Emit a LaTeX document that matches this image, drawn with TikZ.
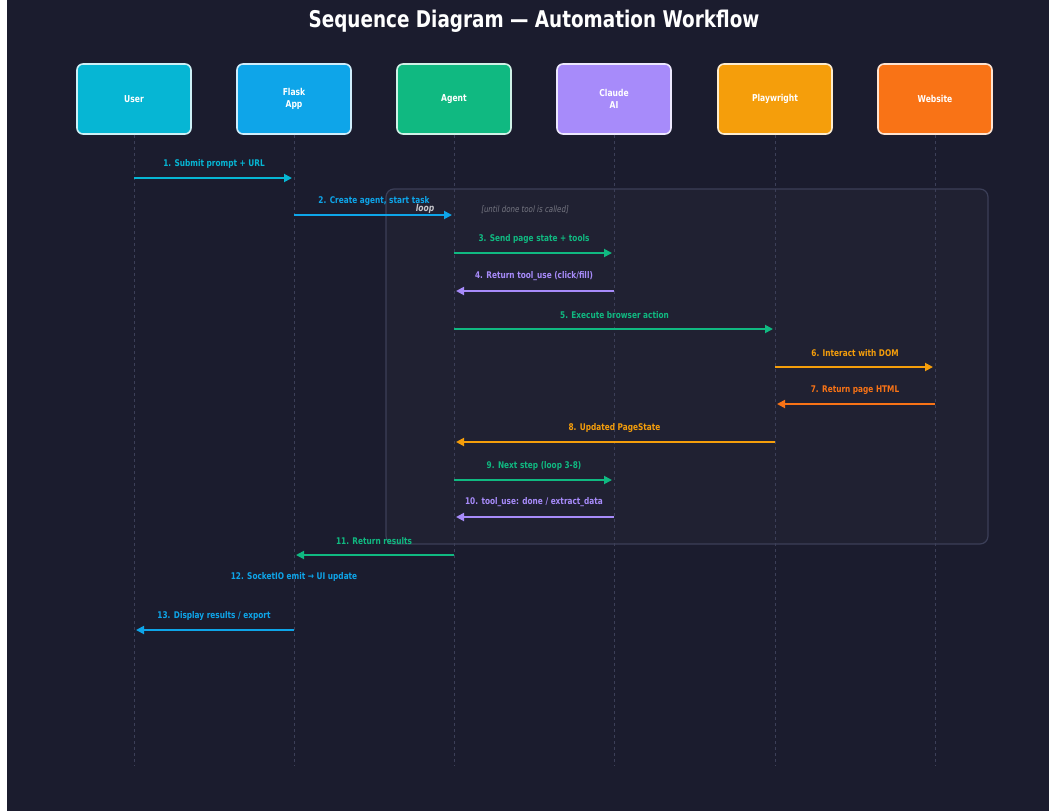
\documentclass[tikz,border=0pt]{standalone}
\usepackage{fontspec}
\setmainfont[FakeStretch=0.8]{DejaVu Sans}
\usetikzlibrary{arrows.meta}
\definecolor{bgdark}{HTML}{1B1C2E}
\definecolor{lifegray}{HTML}{3C3F58}
\definecolor{usercol}{HTML}{06B6D4}
\definecolor{flaskcol}{HTML}{0EA5E9}
\definecolor{agentcol}{HTML}{10B981}
\definecolor{claudecol}{HTML}{A78BFA}
\definecolor{playcol}{HTML}{F59E0B}
\definecolor{webcol}{HTML}{F97316}
\tikzstyle{msg} = [draw, line width=1.8pt, -{Triangle[length=8pt,width=8pt]}, shorten >=2pt]

\begin{document}
\begin{tikzpicture}[x=1pt, y=-1pt,
   actor/.style={draw=white!80!#1, fill=#1, rounded corners=6pt, line width=1.6pt,
      minimum width=114pt, minimum height=70pt, align=center, text=white,
      font=\bfseries\fontsize{9.5}{11.5}\selectfont},
   life/.style={draw=lifegray, dashed, line width=0.8pt},
   call/.style={msg, color=#1},
   lbl/.style={above=9pt, inner sep=0pt, font=\bfseries\fontsize{9.2}{10}\selectfont}]
\useasboundingbox (0,0) rectangle (1049,811);
\fill[white] (0,0) rectangle (1049,811);
\fill[bgdark] (7,0) rectangle (1049,811);

\node[text=white, font=\bfseries\fontsize{23}{27}\selectfont] (title) at (534,21) {Sequence Diagram — Automation Workflow};

% loop frame
\draw[lifegray, line width=1.2pt, fill=white, fill opacity=0.025, rounded corners=8pt] (386,189) rectangle (988,544);
\node[text=white!75!bgdark, font=\bfseries\itshape\fontsize{9.5}{11}\selectfont] (looplbl) at (425,209) {loop};
\node[text=white!40!bgdark, font=\itshape\fontsize{8.8}{10}\selectfont] (loopcond) at (525,210) {[until done tool is called]};

% actors
\node[actor=usercol] (user) at (134,99) {User};
\node[actor=flaskcol] (flask) at (294,99) {Flask\\App};
\node[actor=agentcol] (agent) at (454,99) {Agent};
\node[actor=claudecol] (claude) at (614,99) {Claude\\AI};
\node[actor=playcol] (play) at (775,99) {Playwright};
\node[actor=webcol] (web) at (935,99) {Website};

\foreach \n in {user,flask,agent,claude,play,web}
   \draw[life] (\n.south) -- (\n |- 0,765);

% messages
\draw[call=usercol] (user |- 0,178) -- node[lbl] {1. Submit prompt + URL} (flask |- 0,178);
\draw[call=flaskcol] (flask |- 0,215) -- node[lbl] {2. Create agent, start task} (agent |- 0,215);
\draw[call=agentcol] (agent |- 0,253) -- node[lbl] {3. Send page state + tools} (claude |- 0,253);
\draw[call=claudecol] (claude |- 0,291) -- node[lbl] {4. Return tool\_use (click/fill)} (agent |- 0,291);
\draw[call=agentcol] (agent |- 0,329) -- node[lbl] {5. Execute browser action} (play |- 0,329);
\draw[call=playcol] (play |- 0,367) -- node[lbl] {6. Interact with DOM} (web |- 0,367);
\draw[call=webcol] (web |- 0,404) -- node[lbl] {7. Return page HTML} (play |- 0,404);
\draw[call=playcol] (play |- 0,442) -- node[lbl] {8. Updated PageState} (agent |- 0,442);
\draw[call=agentcol] (agent |- 0,480) -- node[lbl] {9. Next step (loop 3-8)} (claude |- 0,480);
\draw[call=claudecol] (claude |- 0,517) -- node[lbl] {10. tool\_use: done / extract\_data} (agent |- 0,517);
\draw[call=agentcol] (agent |- 0,555) -- node[lbl] {11. Return results} (flask |- 0,555);
\node[text=flaskcol, font=\bfseries\fontsize{9.2}{10}\selectfont] (emit) at (flask |- 0,577) {12. SocketIO emit → UI update};
\draw[call=flaskcol] (flask |- 0,630) -- node[lbl] {13. Display results / export} (user |- 0,630);

\end{tikzpicture}
\end{document}
